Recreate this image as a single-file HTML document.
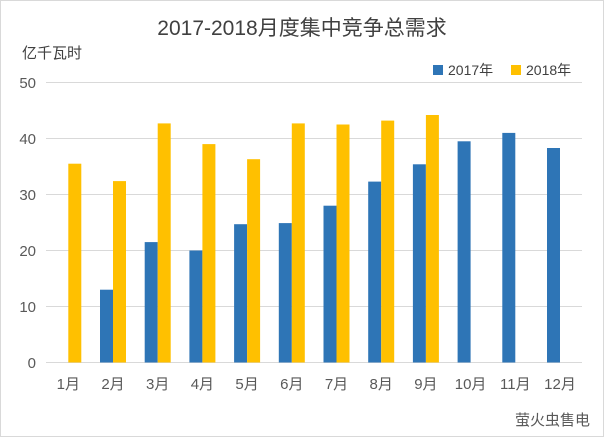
<!DOCTYPE html>
<html><head><meta charset="utf-8"><style>
html,body{margin:0;padding:0;background:#fff;}
svg{display:block;}
text{font-family:"Liberation Sans","Noto Sans CJK SC",sans-serif;}
</style></head><body>
<svg width="604" height="437" viewBox="0 0 604 437">
<rect x="0" y="0" width="604" height="437" fill="#fff"/>
<rect x="0.5" y="0.5" width="603" height="436" fill="none" stroke="#d9d9d9"/>
<text x="302" y="35" font-size="21" text-anchor="middle" fill="#404040">2017-2018月度集中竞争总需求</text>
<text x="22" y="58" font-size="15" fill="#404040">亿千瓦时</text>
<rect x="433" y="65" width="10" height="10" fill="#2e75b6"/>
<text x="448" y="75" font-size="14" fill="#404040">2017年</text>
<rect x="511" y="65" width="10" height="10" fill="#ffc000"/>
<text x="526" y="75" font-size="14" fill="#404040">2018年</text>
<g stroke="#d9d9d9" stroke-width="1">
<line x1="46" x2="582" y1="82.5" y2="82.5"/>
<line x1="46" x2="582" y1="138.5" y2="138.5"/>
<line x1="46" x2="582" y1="194.5" y2="194.5"/>
<line x1="46" x2="582" y1="250.5" y2="250.5"/>
<line x1="46" x2="582" y1="306.5" y2="306.5"/>
<line x1="46" x2="582" y1="362.5" y2="362.5"/>
</g>
<g font-size="15" fill="#595959" text-anchor="end">
<text x="36" y="88">50</text><text x="36" y="144">40</text><text x="36" y="200">30</text>
<text x="36" y="256">20</text><text x="36" y="312">10</text><text x="36" y="368">0</text>
</g>
<g fill="#2e75b6">
<rect x="100" y="289.7" width="13" height="72.8"/>
<rect x="144.7" y="242.1" width="13" height="120.4"/>
<rect x="189.4" y="250.5" width="13" height="112"/>
<rect x="234.1" y="224.2" width="13" height="138.3"/>
<rect x="278.8" y="223.1" width="13" height="139.4"/>
<rect x="323.5" y="205.7" width="13" height="156.8"/>
<rect x="368.2" y="181.6" width="13" height="180.9"/>
<rect x="412.9" y="164.3" width="13" height="198.2"/>
<rect x="457.6" y="141.3" width="13" height="221.2"/>
<rect x="502.3" y="132.9" width="13" height="229.6"/>
<rect x="547" y="148" width="13" height="214.5"/>
</g>
<g fill="#ffc000">
<rect x="68.3" y="163.7" width="13" height="198.8"/>
<rect x="113" y="181.1" width="13" height="181.4"/>
<rect x="157.7" y="123.4" width="13" height="239.1"/>
<rect x="202.4" y="144.1" width="13" height="218.4"/>
<rect x="247.1" y="159.2" width="13" height="203.3"/>
<rect x="291.8" y="123.4" width="13" height="239.1"/>
<rect x="336.5" y="124.5" width="13" height="238"/>
<rect x="381.2" y="120.6" width="13" height="241.9"/>
<rect x="425.9" y="115" width="13" height="247.5"/>
</g>
<g font-size="15" fill="#595959" text-anchor="middle">
<text x="68.3" y="389">1月</text><text x="113" y="389">2月</text><text x="157.7" y="389">3月</text>
<text x="202.4" y="389">4月</text><text x="247.1" y="389">5月</text><text x="291.8" y="389">6月</text>
<text x="336.5" y="389">7月</text><text x="381.2" y="389">8月</text><text x="425.9" y="389">9月</text>
<text x="470.6" y="389">10月</text><text x="515.3" y="389">11月</text><text x="560" y="389">12月</text>
</g>
<text x="590" y="425" font-size="15" text-anchor="end" fill="#595959">萤火虫售电</text>
</svg>
</body></html>
